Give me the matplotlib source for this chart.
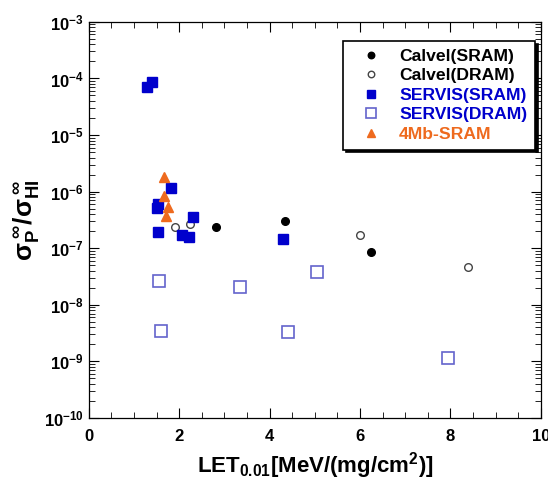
import matplotlib
matplotlib.use('Agg')
import matplotlib.pyplot as plt
from matplotlib.ticker import MultipleLocator, LogLocator, FixedLocator, FixedFormatter, NullFormatter

plt.rcParams['font.family'] = ['Liberation Sans', 'DejaVu Sans']
plt.rcParams['font.weight'] = 'bold'
plt.rcParams['mathtext.fontset'] = 'custom'
plt.rcParams['mathtext.rm'] = 'Liberation Sans:bold'
plt.rcParams['mathtext.it'] = 'Liberation Sans:bold'
plt.rcParams['mathtext.bf'] = 'Liberation Sans:bold'
plt.rcParams['mathtext.default'] = 'bf'

# Data
calvel_sram_x = [2.82, 4.33, 6.24]
calvel_sram_y = [2.35e-7, 2.97e-7, 8.4e-8]

calvel_dram_x = [1.91, 2.25, 6.01, 8.39]
calvel_dram_y = [2.4e-7, 2.66e-7, 1.73e-7, 4.6e-8]

servis_sram_x = [1.28, 1.39, 1.81, 1.54, 1.50, 2.31, 1.54, 2.07, 2.21, 4.29]
servis_sram_y = [7.2e-5, 8.7e-5, 1.17e-6, 6.1e-7, 5.2e-7, 3.5e-7, 1.92e-7, 1.7e-7, 1.59e-7, 1.47e-7]

servis_dram_x = [1.55, 1.60, 3.35, 4.41, 5.05, 7.95]
servis_dram_y = [2.6e-8, 3.45e-9, 2.1e-8, 3.36e-9, 3.85e-8, 1.17e-9]

mb4_sram_x = [1.66, 1.66, 1.76, 1.71]
mb4_sram_y = [1.8e-6, 8.5e-7, 5.3e-7, 3.7e-7]

ytick_vals = [1e-10, 1e-9, 1e-8, 1e-7, 1e-6, 1e-5, 1e-4, 1e-3]
ytick_labels = [r'$10^{-10}$', r'$10^{-9}$', r'$10^{-8}$', r'$10^{-7}$',
                r'$10^{-6}$', r'$10^{-5}$', r'$10^{-4}$', r'$10^{-3}$']

blue = '#0000CC'
lightblue = '#6464CC'
orange = '#EE6A1E'

fig = plt.figure(figsize=(5.48, 4.86), dpi=100)
ax = fig.add_axes([0.162, 0.140, 0.825, 0.815])

ax.plot(calvel_sram_x, calvel_sram_y, 'o', color='black', markersize=5.5, label='Calvel(SRAM)')
ax.plot(calvel_dram_x, calvel_dram_y, 'o', mfc='white', mec='#444444', mew=1.0, markersize=5.5,
        label='Calvel(DRAM)')
ax.plot(servis_sram_x, servis_sram_y, 's', color=blue, markersize=6.5, label='SERVIS(SRAM)')
ax.plot(servis_dram_x, servis_dram_y, 's', mfc='white', mec=lightblue, mew=1.2, markersize=8.5,
        label='SERVIS(DRAM)')
ax.plot(mb4_sram_x, mb4_sram_y, '^', color=orange, markersize=7, label='4Mb-SRAM')

ax.set_yscale('log')
ax.set_xlim(0, 10)
ax.set_ylim(1e-10, 1e-3)

ax.xaxis.set_major_locator(MultipleLocator(2))
ax.xaxis.set_minor_locator(MultipleLocator(0.5))
ax.yaxis.set_major_locator(FixedLocator(ytick_vals))
ax.yaxis.set_major_formatter(FixedFormatter(ytick_labels))
ax.yaxis.set_minor_locator(LogLocator(base=10, subs=range(2, 10), numticks=20))
ax.yaxis.set_minor_formatter(NullFormatter())

ax.tick_params(which='both', direction='in', top=True, right=True, labelsize=12)
ax.tick_params(which='major', length=7, width=0.8)
ax.tick_params(which='minor', length=4, width=0.6)
ax.tick_params(axis='x', pad=8)
for sp in ax.spines.values():
    sp.set_linewidth(0.9)

ax.set_xlabel(r'LET$_{0.01}$[MeV/(mg/cm$^{2}$)]', fontsize=16, fontweight='bold', labelpad=4)
ax.set_ylabel(r'$\sigma_{P}^{\;\infty}/\sigma_{HI}^{\;\infty}$', fontsize=19, labelpad=2)

leg = ax.legend(loc='upper right', bbox_to_anchor=(0.987, 0.952), borderaxespad=0,
                fontsize=12.6, frameon=True,
                fancybox=False, shadow={'color': 'black', 'alpha': 1},
                labelcolor=['black', 'black', blue, blue, orange],
                handlelength=2.3, handletextpad=0.45, borderpad=0.45, labelspacing=0.24,
                markerscale=0.85)
leg.get_frame().set_edgecolor('black')
leg.get_frame().set_linewidth(1.2)
leg.get_frame().set_alpha(1)

plt.savefig('out.png', dpi=100)
